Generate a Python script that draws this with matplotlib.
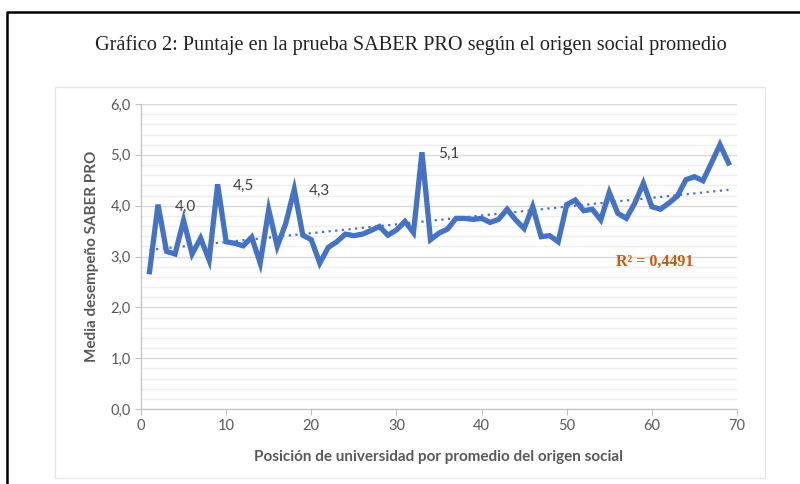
import matplotlib.pyplot as plt
import numpy as np
from matplotlib.patches import Rectangle
from matplotlib.lines import Line2D

# Posición de universidad (1..69) y media SABER PRO
posicion = list(range(1, 70))
media = [2.70, 4.02, 3.10, 3.05, 3.71, 3.05, 3.36, 2.93, 4.42, 3.29,
         3.26, 3.21, 3.38, 2.87, 3.92, 3.20, 3.65, 4.32, 3.42, 3.33,
         2.87, 3.18, 3.29, 3.44, 3.41, 3.44, 3.51, 3.59, 3.42, 3.52,
         3.69, 3.47, 5.05, 3.33, 3.46, 3.54, 3.75, 3.75, 3.73, 3.75,
         3.67, 3.73, 3.93, 3.72, 3.55, 3.98, 3.39, 3.41, 3.29, 4.02,
         4.11, 3.90, 3.93, 3.72, 4.26, 3.85, 3.75, 4.05, 4.44, 3.98,
         3.93, 4.05, 4.19, 4.51, 4.57, 4.49, 4.84, 5.20, 4.84]

etiquetas = ["4,0", "4,5", "4,3", "5,1"]
etiq_x = [5.2, 12.0, 21.0, 36.1]
etiq_y = [3.98, 4.39, 4.29, 5.02]

gris = "#595959"
azul = "#4472C4"

fig = plt.figure(figsize=(8, 4.84), dpi=100)
plt.rcParams['font.family'] = ['Lato', 'DejaVu Sans']

# marcos
fig.add_artist(Line2D([7 / 800, 7 / 800, 1.0], [0.0, 1 - 12 / 484, 1 - 12 / 484],
                      transform=fig.transFigure, color="black", lw=1.8))
fig.add_artist(Rectangle((55 / 800, 1 - 478 / 484), (765 - 55) / 800, (478 - 87) / 484,
                         transform=fig.transFigure, fill=False, edgecolor="#E6E6E6", lw=1))

fig.text(0.514, 1 - 45 / 484, "Gráfico 2: Puntaje en la prueba SABER PRO según el origen social promedio",
         ha="center", va="center", fontsize=14.6, family="Liberation Serif", color="#222222")

ax = fig.add_axes([141 / 800, 1 - 409 / 484, (737 - 141) / 800, (409 - 104) / 484])

ax.plot(posicion, media, color=azul, lw=3.8, solid_joinstyle="miter", zorder=3)

# línea de tendencia lineal
coef = np.polyfit(posicion, media, 1)
xs = np.array([1, 69])
ax.plot(xs, np.polyval(coef, xs), color=azul, lw=1.6, ls=(0, (1, 2)), zorder=2)

for t, x, y in zip(etiquetas, etiq_x, etiq_y):
    ax.text(x, y, t, ha="center", va="center", fontsize=11, color="#404040")

ax.text(60.3, 2.89, "R² = 0,4491", ha="center", va="center", fontsize=11.5,
        color="#C55A11", fontweight="bold", family="Liberation Serif")

ax.set_xlim(0, 70)
ax.set_ylim(0, 6)
ax.set_xticks(range(0, 71, 10))
ax.set_yticks(np.arange(0, 6.1, 1))
ax.set_yticks(np.arange(0, 6.01, 0.2), minor=True)
ax.set_yticklabels([f"{v:.1f}".replace(".", ",") for v in np.arange(0, 6.1, 1)])
ax.grid(axis="y", which="major", color="#D9D9D9", lw=1)
ax.grid(axis="y", which="minor", color="#EDEDED", lw=1)
ax.set_axisbelow(True)
ax.tick_params(axis="both", which="major", colors=gris, labelsize=10.5, length=4, color="#BFBFBF")
ax.tick_params(axis="y", which="minor", length=0)
for s in ["top", "right"]:
    ax.spines[s].set_visible(False)
for s in ["left", "bottom"]:
    ax.spines[s].set_color("#BFBFBF")

ax.set_xlabel("Posición de universidad por promedio del origen social", fontsize=11,
              fontweight="bold", color=gris, labelpad=12)
ax.set_ylabel("Media desempeño SABER PRO", fontsize=11, fontweight="bold", color=gris, labelpad=8)

fig.savefig("out.png", dpi=100)
